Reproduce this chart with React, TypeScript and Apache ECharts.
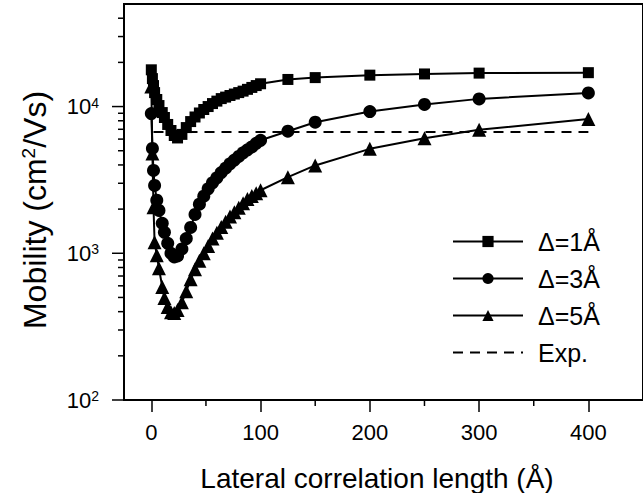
import React, { useEffect, useRef } from 'react';
import * as echarts from 'echarts';

const FONT = '"Liberation Sans", Arial, sans-serif';

// Lateral correlation length (Å)
const X_VALUES = [0, 1, 2, 3, 5, 7, 10, 12, 15, 18, 21, 24, 28, 32, 36, 40, 44, 48, 52, 56, 60, 64, 68, 72, 76, 80, 84, 88, 92, 96, 100, 125, 150, 200, 250, 300, 400];
// Mobility (cm2/Vs)
const DELTA1 = [17800, 15500, 13900, 12450, 11170, 10160, 9100, 8420, 7550, 6870, 6350, 6110, 6460, 7190, 7900, 8490, 9040, 9550, 10000, 10480, 10890, 11330, 11600, 11900, 12170, 12450, 12740, 13100, 13500, 13900, 14300, 15300, 15750, 16370, 16680, 16900, 17020];
const DELTA3 = [8960, 5180, 3670, 2900, 2300, 1960, 1600, 1390, 1170, 1000, 945, 960, 1070, 1260, 1500, 1840, 2160, 2450, 2750, 3020, 3270, 3550, 3800, 4070, 4320, 4570, 4840, 5070, 5310, 5620, 5890, 6790, 7820, 9250, 10330, 11280, 12390];
const DELTA5 = [13700, 4790, 2060, 1190, 970, 790, 590, 495, 430, 397, 391, 410, 464, 551, 665, 778, 890, 1000, 1120, 1260, 1380, 1510, 1640, 1780, 1905, 2040, 2190, 2340, 2455, 2570, 2690, 3300, 3970, 5150, 6080, 6940, 8240];
const EXP_X = [2, 400];
const EXP_VALUE = 6700;

const SERIES_NAMES = ['Δ=1Å', 'Δ=3Å', 'Δ=5Å', 'Exp.'];

const X_MIN = -25;
const X_MAX = 450;
const Y_MIN = 100;
const Y_MAX = 50000;
const X_TICKS = [0, 100, 200, 300, 400];
const X_MINOR_TICKS = [50, 150, 250, 350];
const Y_MAJOR_TICKS = [100, 1000, 10000];
const Y_MINOR_TICKS = [200, 300, 400, 500, 600, 700, 800, 900, 2000, 3000, 4000, 5000, 6000, 7000, 8000, 9000, 20000, 30000, 40000];

function tickSeries(data: number[][], dx: number, dy: number) {
  return {
    type: 'custom',
    coordinateSystem: 'cartesian2d',
    clip: false,
    silent: true,
    z: 5,
    data,
    renderItem: (_p: any, api: any) => {
      const c = api.coord([api.value(0), api.value(1)]);
      return {
        type: 'line',
        shape: { x1: c[0], y1: c[1], x2: c[0] + dx, y2: c[1] + dy },
        style: { stroke: '#000', lineWidth: 1.5 },
      };
    },
  };
}

export default function App() {
  const ref = useRef<HTMLDivElement>(null);
  useEffect(() => {
    if (!ref.current) return;
    const chart = echarts.init(ref.current, undefined, { renderer: 'svg' });
    const lineCommon = {
      type: 'line',
      showAllSymbol: true,
      itemStyle: { color: '#000' },
      lineStyle: { color: '#000', width: 2 },
      z: 3,
    };
    chart.setOption({
      animation: false,
      backgroundColor: '#fff',
      grid: {
        left: 124, right: -7, top: 4, bottom: 93,
        show: true, borderColor: '#000', borderWidth: 2, backgroundColor: 'transparent',
      },
      xAxis: {
        type: 'value', min: X_MIN, max: X_MAX,
        axisLine: { onZero: false, lineStyle: { color: '#000', width: 2 } },
        axisTick: { customValues: X_TICKS, length: 12, lineStyle: { color: '#000', width: 1.5 } },
        axisLabel: { customValues: X_TICKS, margin: 21, fontSize: 22, color: '#000', fontFamily: FONT },
        splitLine: { show: false },
      },
      yAxis: {
        type: 'log', logBase: 10, min: Y_MIN, max: Y_MAX,
        axisLine: { show: true, onZero: false, lineStyle: { color: '#000', width: 2 } },
        axisTick: { show: false },
        minorTick: { show: false },
        splitLine: { show: false },
        axisLabel: {
          margin: 25,
          showMaxLabel: false,
          fontSize: 22, color: '#000', fontFamily: FONT,
          formatter: (v: number) => `{b|10}{sup|${Math.round(Math.log10(v))}}`,
          rich: {
            b: { fontSize: 22, color: '#000', fontFamily: FONT },
            sup: { fontSize: 14, color: '#000', fontFamily: FONT, verticalAlign: 'top' },
          },
        },
      },
      legend: {
        data: SERIES_NAMES,
        orient: 'vertical',
        left: 447, top: 224,
        itemWidth: 70, itemHeight: 14, itemGap: 12,
        selectedMode: false,
        textStyle: { fontSize: 25, color: '#000', fontFamily: FONT, padding: [0, 0, 0, 10] },
      },
      graphic: [
        {
          type: 'text', x: 35, y: 210, rotation: Math.PI / 2,
          style: {
            text: 'Mobility (cm{sup|2}/Vs)',
            fontSize: 32, fontFamily: FONT, fill: '#000',
            align: 'center', verticalAlign: 'middle', textAlign: 'center', textVerticalAlign: 'middle',
            rich: { sup: { fontSize: 19, fontFamily: FONT, fill: '#000', verticalAlign: 'top' } },
          },
        },
        {
          type: 'text', x: 377, y: 478,
          style: {
            text: 'Lateral correlation length (Å)',
            fontSize: 28, fontFamily: FONT, fill: '#000',
            align: 'center', verticalAlign: 'middle', textAlign: 'center', textVerticalAlign: 'middle',
          },
        },
      ],
      series: [
        { ...lineCommon, name: SERIES_NAMES[0], symbol: 'rect', symbolSize: 11, data: X_VALUES.map((x, i) => [x, DELTA1[i]]) },
        { ...lineCommon, name: SERIES_NAMES[1], symbol: 'circle', symbolSize: 13, data: X_VALUES.map((x, i) => [x, DELTA3[i]]) },
        { ...lineCommon, name: SERIES_NAMES[2], symbol: 'triangle', symbolSize: 14, data: X_VALUES.map((x, i) => [x, DELTA5[i]]) },
        {
          name: SERIES_NAMES[3], type: 'line', symbol: 'none', z: 2,
          itemStyle: { color: 'rgba(0,0,0,0)' },
          lineStyle: { color: '#000', width: 2, type: [10, 7] },
          data: EXP_X.map((x) => [x, EXP_VALUE]),
        },
        tickSeries(Y_MAJOR_TICKS.map((v) => [X_MIN, v]), -12, 0),
        tickSeries(Y_MINOR_TICKS.map((v) => [X_MIN, v]), -6, 0),
        tickSeries(X_MINOR_TICKS.map((v) => [v, Y_MIN]), 0, 6),
      ],
    });
    return () => chart.dispose();
  }, []);
  return <div ref={ref} style={{ position: 'absolute', left: 0, top: 0, width: 643, height: 493 }} />;
}
